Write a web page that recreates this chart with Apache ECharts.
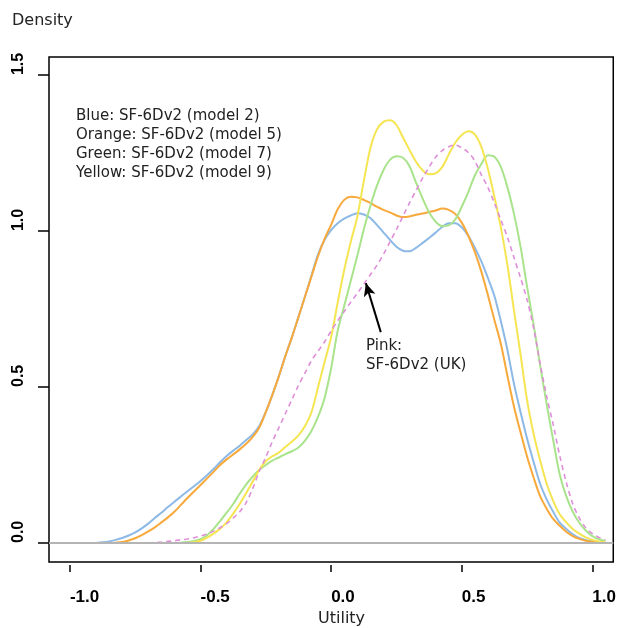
<!DOCTYPE html>
<html>
<head>
<meta charset="utf-8">
<script src="https://cdn.jsdelivr.net/npm/echarts@6/dist/echarts.min.js"></script>
<style>html,body{margin:0;padding:0;background:#fff}#c{width:619px;height:628px}</style>
</head>
<body>
<div id="c"></div>
<script>
var xGrid = [-0.950,-0.925,-0.900,-0.875,-0.850,-0.825,-0.800,-0.775,-0.750,-0.725,
 -0.700,-0.675,-0.650,-0.625,-0.600,-0.575,-0.550,-0.525,-0.500,-0.475,
 -0.450,-0.425,-0.400,-0.375,-0.350,-0.325,-0.300,-0.275,-0.250,-0.225,
 -0.200,-0.175,-0.150,-0.125,-0.100,-0.075,-0.050,-0.025,0.000,0.025,
 0.050,0.075,0.100,0.125,0.150,0.175,0.200,0.225,0.250,0.275,
 0.300,0.325,0.350,0.375,0.400,0.425,0.450,0.475,0.500,0.525,
 0.550,0.575,0.600,0.625,0.650,0.675,0.700,0.725,0.750,0.775,
 0.800,0.825,0.850,0.875,0.900,0.925,0.950,0.975,1.000,1.025,1.050];
var blueModel2 = [null,null,0.0,0.002,0.005,0.010,0.016,0.024,0.034,0.047,
 0.062,0.080,0.097,0.115,0.132,0.149,0.166,0.182,0.199,0.217,
 0.237,0.259,0.279,0.296,0.312,0.330,0.348,0.375,0.420,0.475,
 0.535,0.600,0.660,0.725,0.790,0.858,0.925,0.972,1.003,1.025,
 1.040,1.050,1.057,1.053,1.042,1.020,0.996,0.972,0.950,0.937,
 0.935,0.946,0.962,0.978,0.995,1.013,1.025,1.025,1.012,0.985,
 0.947,0.903,0.850,0.792,0.710,0.618,0.510,0.420,0.335,0.260,
 0.190,0.140,0.100,0.065,0.045,0.028,0.016,0.009,0.005,0.002,0.0];
var orangeModel5 = [null,null,null,null,0.0,0.001,0.003,0.008,0.015,0.025,
 0.037,0.050,0.066,0.082,0.100,0.122,0.144,0.165,0.186,0.207,
 0.228,0.250,0.268,0.284,0.300,0.318,0.340,0.370,0.420,0.475,
 0.535,0.600,0.660,0.725,0.790,0.855,0.920,0.975,1.020,1.070,
 1.100,1.110,1.108,1.100,1.090,1.078,1.068,1.060,1.050,1.045,
 1.047,1.052,1.056,1.061,1.066,1.072,1.068,1.055,1.027,0.985,
 0.933,0.870,0.795,0.715,0.637,0.535,0.437,0.355,0.277,0.210,
 0.150,0.110,0.077,0.055,0.036,0.022,0.013,0.007,0.004,0.002,0.0];
var greenModel7 = [null,null,null,null,null,null,null,null,null,null,
 null,null,null,null,0.0,0.001,0.003,0.006,0.012,0.025,
 0.045,0.070,0.097,0.125,0.158,0.188,0.213,0.235,0.250,0.264,
 0.274,0.285,0.294,0.306,0.328,0.360,0.405,0.465,0.560,0.680,
 0.760,0.840,0.920,1.005,1.080,1.145,1.195,1.228,1.240,1.235,
 1.208,1.155,1.105,1.060,1.030,1.016,1.018,1.037,1.078,1.125,
 1.178,1.215,1.243,1.238,1.205,1.140,1.055,0.950,0.822,0.700,
 0.570,0.445,0.330,0.220,0.150,0.100,0.065,0.040,0.022,0.012,0.006];
var yellowModel9 = [null,null,null,null,null,null,null,null,null,null,
 null,null,null,null,null,null,0.0,0.002,0.007,0.017,
 0.030,0.046,0.066,0.094,0.125,0.160,0.197,0.235,0.262,0.278,
 0.290,0.308,0.325,0.345,0.375,0.420,0.500,0.580,0.660,0.770,
 0.875,0.965,1.045,1.160,1.265,1.325,1.350,1.355,1.340,1.300,
 1.260,1.222,1.195,1.182,1.185,1.205,1.245,1.283,1.308,1.320,
 1.310,1.270,1.200,1.110,1.010,0.890,0.745,0.605,0.458,0.350,
 0.265,0.190,0.135,0.092,0.066,0.045,0.030,0.018,0.010,0.005,0.002];
var pinkUK = [null,null,null,null,null,null,null,null,null,null,
 0.0,0.002,0.003,0.005,0.007,0.010,0.013,0.017,0.022,0.029,
 0.038,0.049,0.062,0.080,0.100,0.130,0.175,0.230,0.275,0.325,
 0.370,0.415,0.460,0.505,0.545,0.585,0.615,0.645,0.680,0.712,
 0.742,0.772,0.800,0.830,0.860,0.890,0.925,0.965,1.005,1.048,
 1.090,1.130,1.170,1.205,1.237,1.258,1.270,1.276,1.267,1.252,
 1.225,1.180,1.140,1.090,1.035,0.980,0.915,0.850,0.780,0.690,
 0.575,0.470,0.380,0.280,0.195,0.125,0.080,0.048,0.030,0.018,0.010];
var xTicks = [-1.0,-0.5,0.0,0.5,1.0];
var yTicks = [0.0,0.5,1.0,1.5];
var legendLines = ['Blue: SF-6Dv2 (model 2)','Orange: SF-6Dv2 (model 5)','Green: SF-6Dv2 (model 7)','Yellow: SF-6Dv2 (model 9)'];
var pinkNote = ['Pink:','SF-6Dv2 (UK)'];
var arrowFrom = [0.19, 0.676];
var arrowTo = [0.133, 0.833];

function pairs(ys){
  var out = [];
  for (var i=0;i<xGrid.length;i++){ if (ys[i]!==null && ys[i]!==undefined) out.push([xGrid[i], ys[i]]); }
  return out;
}
function curve(name, ys, color, dashed){
  return {
    name: name, type:'line', data: pairs(ys), smooth: 0.3, showSymbol:false, symbol:'none',
    lineStyle:{color:color, width: dashed?1.6:2, type: dashed?[5,4]:'solid'}, silent:true
  };
}
var chart = echarts.init(document.getElementById('c'), null, {renderer:'canvas'});
var fmt = function(v){ return v.toFixed(1); };
var series = [
  {type:'line', data:[], silent:true,
   markLine:{silent:true, symbol:['none','none'], label:{show:false},
     lineStyle:{color:'#b4b4b4', width:2, type:'solid'}, data:[{yAxis:0}]}},
  curve('Blue', blueModel2, '#8cb9e6', false),
  curve('Orange', orangeModel5, '#f8a93c', false),
  curve('Green', greenModel7, '#a9e38c', false),
  curve('Yellow', yellowModel9, '#f5e552', false),
  curve('Pink', pinkUK, '#df8fd9', true)
];
series.push({type:'line', data:[], silent:true,
  markLine:{silent:true, symbol:['none','arrow'], symbolSize:[9,13], label:{show:false},
    lineStyle:{color:'#000', width:2, type:'solid'},
    data:[[{coord:arrowFrom},{coord:arrowTo}]]}});

var graphics = [
  {type:'text', left:12, top:13, style:{text:'Density', font:'16px "DejaVu Sans"', fill:'#222'}},
  {type:'text', left:318, top:611, style:{text:'Utility', font:'16px "DejaVu Sans"', fill:'#222'}}
];
legendLines.forEach(function(t,i){
  graphics.push({type:'text', left:76, top:109+i*19, style:{text:t, font:'15px "DejaVu Sans"', fill:'#222'}});
});
pinkNote.forEach(function(t,i){
  graphics.push({type:'text', left:366, top:339+i*19, style:{text:t, font:'15px "DejaVu Sans"', fill:'#222'}});
});

chart.setOption({
  animation:false,
  backgroundColor:'#fff',
  grid:{left:49, top:57, right:3, bottom:66, show:true, borderColor:'#000', borderWidth:1.5, backgroundColor:'transparent'},
  xAxis:{type:'value', min:-1.08, max:1.08, offset:3,
    axisLine:{show:false, onZero:false}, splitLine:{show:false},
    axisTick:{show:true, length:7, lineStyle:{color:'#000', width:1.5}, customValues:xTicks},
    axisLabel:{customValues:xTicks, formatter:fmt, align:'left', margin:24,
      fontFamily:'"Liberation Sans", Arial', fontWeight:'bold', fontSize:17, color:'#000'}},
  yAxis:{type:'value', min:-0.061, max:1.558, offset:0,
    axisLine:{show:false, onZero:false}, splitLine:{show:false},
    axisTick:{show:true, length:11, lineStyle:{color:'#000', width:1.5}, customValues:yTicks},
    axisLabel:{customValues:yTicks, formatter:fmt, rotate:90, align:'left', verticalAlign:'bottom', margin:22,
      fontFamily:'"Liberation Sans", Arial', fontWeight:'bold', fontSize:16, color:'#000'}},
  series: series,
  graphic: graphics
});
</script>
</body>
</html>
